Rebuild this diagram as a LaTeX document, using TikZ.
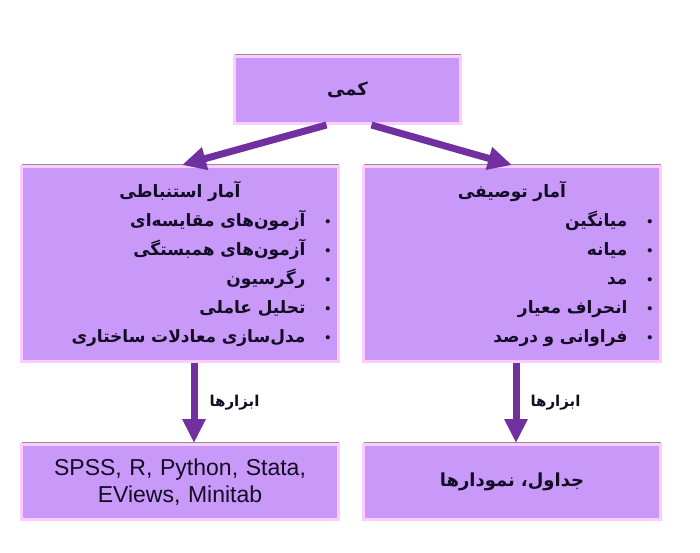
\documentclass[tikz,border=0pt]{standalone}
\usepackage{fontspec}
\setmainfont{Liberation Sans}
\newfontfamily\farsi[Script=Arabic]{DejaVu Sans}
\TeXXeTstate=1
\usetikzlibrary{positioning,arrows.meta,shadows}

\definecolor{boxfill}{RGB}{201,153,250}
\definecolor{boxline}{RGB}{255,204,255}
\definecolor{arrowc}{RGB}{112,48,160}
\definecolor{txt}{RGB}{18,12,36}

\newcommand{\fa}[1]{{\farsi\beginR #1\endR}}
\newcommand{\itm}[1]{\fa{#1}\hspace{20pt}{\Large\textbullet}}

\begin{document}
\begin{tikzpicture}[x=1pt,y=-1pt]
\tikzset{
    box/.style={rectangle, draw=boxline, line width=3pt, fill=boxfill, text=txt, inner xsep=8pt, inner ysep=0pt, drop shadow={shadow xshift=0pt, shadow yshift=3pt, fill=black!55, opacity=0.8}},
    flow/.style={draw=arrowc, line width=7pt, -{Triangle[width=22pt,length=24pt]}},
    lbl/.style={inner sep=0pt, text=txt, font=\farsi\bfseries\fontsize{15}{18}\selectfont}
}
\useasboundingbox (0,0) rectangle (700,552);

\node[box, minimum width=226pt, minimum height=67pt, font=\bfseries\fontsize{18}{20}\selectfont] (quant) at (347.5,90) {\fa{کمی}};

\node[box, minimum height=195pt, text width=301pt, align=right, font=\bfseries\fontsize{17}{29}\selectfont] (inferential) at (180,264) {%
\makebox[\hsize]{\fa{آمار استنباطی}}\\
\itm{آزمون‌های مقایسه‌ای}\\
\itm{آزمون‌های همبستگی}\\
\itm{رگرسیون}\\
\itm{تحلیل عاملی}\\
\itm{مدل‌سازی معادلات ساختاری}};
\node[box, right=22pt of inferential, minimum height=195pt, text width=281pt, align=right, font=\bfseries\fontsize{17}{29}\selectfont] (descriptive) {%
\makebox[\hsize]{\fa{آمار توصیفی}}\\
\itm{میانگین}\\
\itm{میانه}\\
\itm{مد}\\
\itm{انحراف معیار}\\
\itm{فراوانی و درصد}};

\node[box, below=80pt of inferential, minimum height=75pt, text width=301pt, align=center, font=\fontsize{23}{27}\selectfont] (software) {SPSS, R, Python, Stata,\\ EViews, Minitab};
\node[box, below=80pt of descriptive, minimum height=75pt, text width=281pt, align=center, font=\bfseries\fontsize{18}{20}\selectfont] (tables) {\fa{جداول، نمودارها}};

\draw[flow] ([xshift=-21pt]quant.south) -- ([xshift=2pt]inferential.north);
\draw[flow] ([xshift=24pt]quant.south) -- (descriptive.north);
\draw[flow] ([xshift=14pt]inferential.south) -- node[lbl, right=12pt] (toolsinf) {\fa{ابزارها}} ([xshift=14pt]software.north);
\draw[flow] ([xshift=4pt]descriptive.south) -- node[lbl, right=11pt] (toolsdesc) {\fa{ابزارها}} ([xshift=4pt]tables.north);
\end{tikzpicture}
\end{document}
